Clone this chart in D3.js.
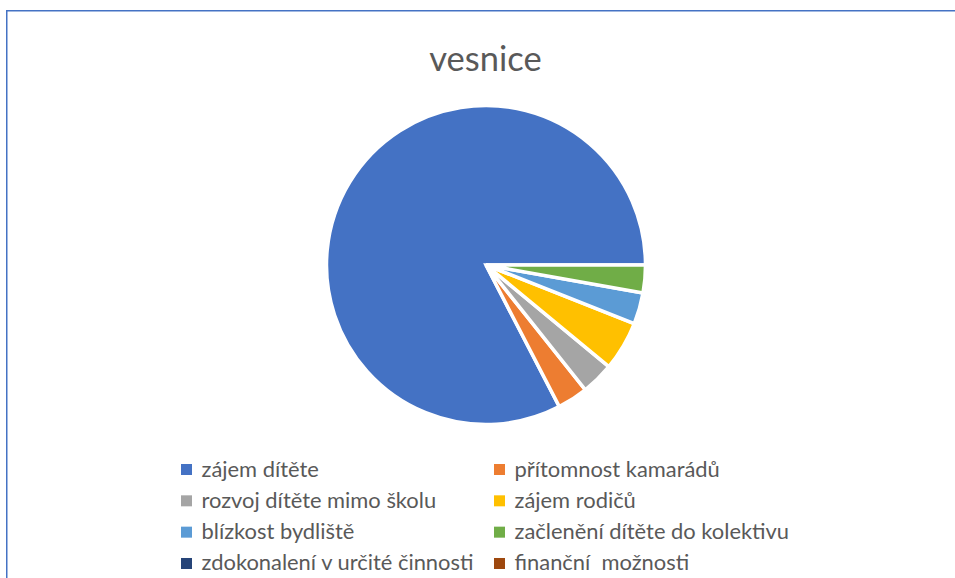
<!DOCTYPE html>
<html>
<head>
<meta charset="utf-8">
<script src="https://cdn.jsdelivr.net/npm/d3@7"></script>
<style>
  html, body { margin: 0; padding: 0; background: #fff; }
  svg { display: block; }
  text { font-family: Lato, "Open Sans", sans-serif; white-space: pre; }
</style>
</head>
<body>
<svg id="chart" width="955" height="578"></svg>
<script>
const title = "vesnice";
const categories = [
  "zájem dítěte",
  "přítomnost kamarádů",
  "rozvoj dítěte mimo školu",
  "zájem rodičů",
  "blízkost bydliště",
  "začlenění dítěte do kolektivu",
  "zdokonalení v určité činnosti",
  "finanční  možnosti"
];
const values = [82.6, 3.1, 3.3, 5.0, 3.2, 2.8, 0, 0];
const colors = ["#4472C4", "#ED7D31", "#A5A5A5", "#FFC000", "#5B9BD5", "#70AD47", "#264478", "#9E480E"];

const svg = d3.select("#chart");
const W = 955, H = 578;

// chart frame (left and top edges visible)
svg.append("path")
  .attr("d", `M6.75,${H} L6.75,10.75 L${W},10.75`)
  .attr("fill", "none")
  .attr("stroke", "#4472C4")
  .attr("stroke-width", 1.5);

// title
svg.append("text")
  .attr("x", 485.5)
  .attr("y", 71)
  .attr("text-anchor", "middle")
  .attr("font-size", 34.5)
  .attr("fill", "#595959")
  .text(title);

// pie
const cx = 486, cy = 265, r = 159.5;
const data = categories.map((c, i) => ({ name: c, value: values[i], color: colors[i] }));
const pie = d3.pie()
  .sort(null)
  .value(d => d.value)
  .startAngle(Math.PI / 2)
  .endAngle(Math.PI / 2 - 2 * Math.PI);
const arc = d3.arc().innerRadius(0).outerRadius(r);

svg.append("g")
  .attr("transform", `translate(${cx},${cy})`)
  .selectAll("path")
  .data(pie(data).filter(d => d.data.value > 0))
  .join("path")
  .attr("d", arc)
  .attr("fill", d => d.data.color)
  .attr("stroke", "#fff")
  .attr("stroke-width", 3.5)
  .attr("stroke-linejoin", "miter");

// legend
const colX = [181, 494];
const rowY0 = 464, rowStep = 31.33, box = 11;
const legend = svg.append("g");
data.forEach((d, i) => {
  const col = i % 2, row = Math.floor(i / 2);
  const x = colX[col], y = rowY0 + row * rowStep;
  legend.append("rect")
    .attr("x", x).attr("y", y)
    .attr("width", box).attr("height", box)
    .attr("fill", d.color);
  legend.append("text")
    .attr("x", x + 20.5)
    .attr("y", y + 12.5)
    .attr("font-size", 21.9)
    .attr("fill", "#595959")
    .text(d.name);
});
</script>
</body>
</html>
